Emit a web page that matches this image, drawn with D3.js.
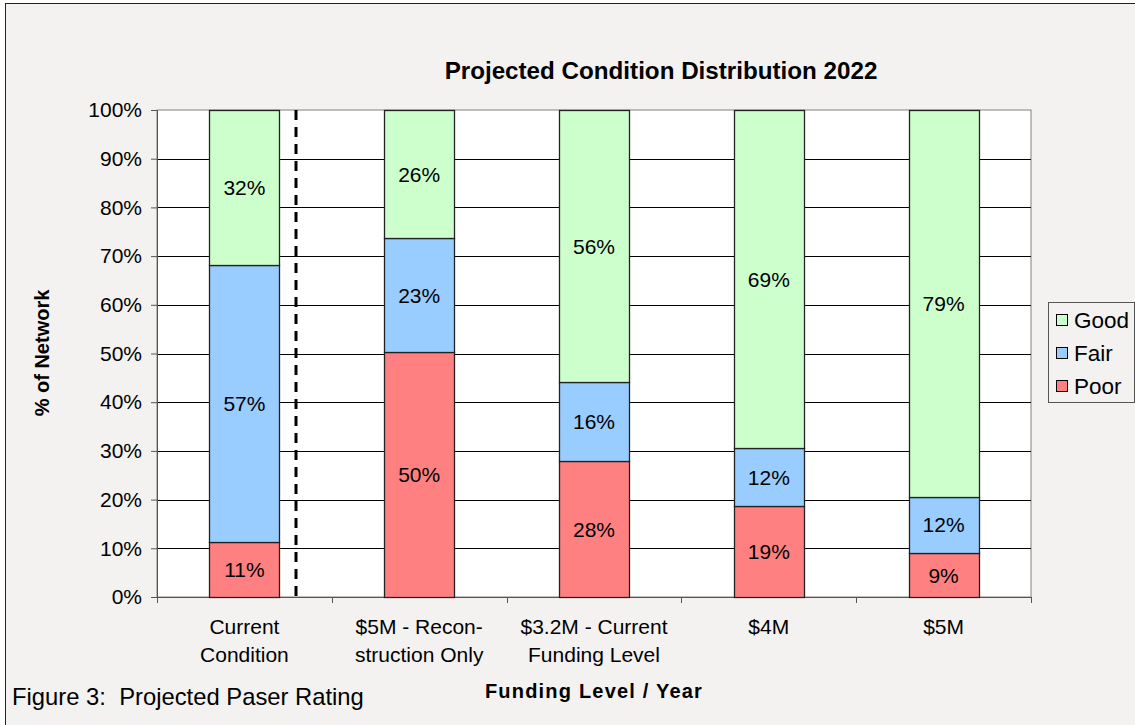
<!DOCTYPE html>
<html>
<head>
<meta charset="utf-8">
<script src="https://cdn.jsdelivr.net/npm/d3@7"></script>
<style>
  body { margin: 0; background: #ffffff; }
  text { font-family: "Liberation Sans", Arial, sans-serif; fill: #000; }
</style>
</head>
<body>
<div id="container"></div>
<script>
/* DATA */
const categories = [["Current", "Condition"], ["$5M - Recon-", "struction Only"], ["$3.2M - Current", "Funding Level"], ["$4M"], ["$5M"]];
const series = ["Poor", "Fair", "Good"];
const poor = [11.3, 50.3, 27.9, 18.7, 9.0];
const fair = [56.9, 23.4, 16.2, 11.8, 11.6];
const good = [31.8, 26.3, 55.9, 69.4, 79.4];
const colors = ["#ff8080", "#99ccff", "#ccffcc"];
const yTicks = [0, 10, 20, 30, 40, 50, 60, 70, 80, 90, 100];

/* CONSTANTS AND GLOBALS */
const width = 1135, height = 725,
  plot = { left: 157, right: 1031, top: 110, bottom: 597 };

const svg = d3.select("#container")
  .append("svg")
  .attr("width", width)
  .attr("height", height);

// chart frame
svg.append("rect")
  .attr("x", 5.5).attr("y", 3.5)
  .attr("width", width + 10).attr("height", height + 10)
  .attr("fill", "#f3f2f1")
  .attr("stroke", "#222");

// SCALES
const x = d3.scaleBand()
  .domain(d3.range(categories.length))
  .range([plot.left, plot.right])
  .paddingInner(0)
  .paddingOuter(0);

const y = d3.scaleLinear()
  .domain([0, 100])
  .range([plot.bottom, plot.top]);

// plot area
svg.append("rect")
  .attr("x", plot.left).attr("y", plot.top)
  .attr("width", plot.right - plot.left).attr("height", plot.bottom - plot.top)
  .attr("fill", "#fff")
  .attr("stroke", "#808080");

// gridlines
svg.append("g")
  .selectAll("line")
  .data(yTicks.slice(1, -1))
  .join("line")
  .attr("x1", plot.left).attr("x2", plot.right)
  .attr("y1", d => Math.round(y(d)) + 0.5).attr("y2", d => Math.round(y(d)) + 0.5)
  .attr("stroke", "#000")
  .attr("stroke-width", 1);

// Y AXIS
const yAxis = svg.append("g")
  .attr("transform", `translate(${plot.left},0)`)
  .call(d3.axisLeft(y).tickValues(yTicks).tickFormat(d => d + "%").tickSize(6).tickPadding(9));
yAxis.select(".domain").attr("stroke", "#555");
yAxis.selectAll(".tick line").attr("stroke", "#555");
yAxis.selectAll("text").style("font-size", "21px").attr("fill", "#000");

// X AXIS (ticks at category boundaries)
svg.append("line")
  .attr("x1", plot.left).attr("x2", plot.right)
  .attr("y1", plot.bottom + 0.5).attr("y2", plot.bottom + 0.5)
  .attr("stroke", "#555");
svg.append("g")
  .selectAll("line")
  .data(d3.range(categories.length + 1))
  .join("line")
  .attr("x1", d => Math.round(plot.left + d * x.step()) + 0.5)
  .attr("x2", d => Math.round(plot.left + d * x.step()) + 0.5)
  .attr("y1", plot.bottom).attr("y2", plot.bottom + 6)
  .attr("stroke", "#555");

svg.append("g")
  .selectAll("text")
  .data(categories)
  .join("text")
  .attr("text-anchor", "middle")
  .attr("x", (d, i) => x(i) + x.bandwidth() / 2)
  .attr("y", 634)
  .style("font-size", "21px")
  .selectAll("tspan")
  .data(d => d)
  .join("tspan")
  .attr("x", function () { return d3.select(this.parentNode).attr("x"); })
  .attr("dy", (d, i) => i === 0 ? 0 : 28)
  .text(d => d);

// STACKED BARS
const table = categories.map((c, i) => ({ Poor: poor[i], Fair: fair[i], Good: good[i], i }));
const stacked = d3.stack().keys(series)(table);
const barW = 70;

const layers = svg.append("g")
  .selectAll("g")
  .data(stacked)
  .join("g")
  .attr("fill", (d, i) => colors[i]);

layers.selectAll("rect")
  .data(d => d)
  .join("rect")
  .attr("x", d => Math.round(x(d.data.i) + x.bandwidth() / 2 - barW / 2) + 0.5)
  .attr("width", barW)
  .attr("y", d => Math.round(y(d[1])) + 0.5)
  .attr("height", d => Math.round(y(d[0])) - Math.round(y(d[1])))
  .attr("stroke", "#222")
  .attr("stroke-width", 1.3);

layers.selectAll("text")
  .data(d => d)
  .join("text")
  .attr("text-anchor", "middle")
  .attr("x", d => x(d.data.i) + x.bandwidth() / 2)
  .attr("y", d => (y(d[0]) + y(d[1])) / 2 + 7.5)
  .style("font-size", "21px")
  .text(d => Math.round(d[1] - d[0]) + "%");

// dashed separator
svg.append("line")
  .attr("x1", 296).attr("x2", 296)
  .attr("y1", plot.top).attr("y2", plot.bottom)
  .attr("stroke", "#000")
  .attr("stroke-width", 3)
  .attr("stroke-dasharray", "10,7");

// LEGEND
const legend = svg.append("g").attr("transform", "translate(1048,302)");
legend.append("rect")
  .attr("x", 0.5).attr("y", 0.5)
  .attr("width", 86).attr("height", 100)
  .attr("fill", "#f3f2f1")
  .attr("stroke", "#555");
const legendItems = legend.selectAll("g.item")
  .data(series.slice().reverse())
  .join("g")
  .attr("class", "item")
  .attr("transform", (d, i) => `translate(0,${18 + i * 33})`);
legendItems.append("rect")
  .attr("x", 8.5).attr("y", -5.5)
  .attr("width", 11).attr("height", 11)
  .attr("fill", d => colors[series.indexOf(d)])
  .attr("stroke", "#000");
legendItems.append("text")
  .attr("x", 26).attr("y", 8)
  .style("font-size", "22.5px")
  .text(d => d);

// TITLES
svg.append("text")
  .attr("x", 661).attr("y", 79)
  .attr("text-anchor", "middle")
  .style("font-size", "24.2px")
  .style("font-weight", "bold")
  .text("Projected Condition Distribution 2022");

svg.append("text")
  .attr("transform", "translate(49,353) rotate(-90)")
  .attr("text-anchor", "middle")
  .style("font-size", "20px")
  .style("font-weight", "bold")
  .text("% of Network");

svg.append("text")
  .attr("x", 594).attr("y", 698)
  .attr("text-anchor", "middle")
  .style("font-size", "20px")
  .style("font-weight", "bold")
  .style("letter-spacing", "1.2px")
  .text("Funding Level / Year");

svg.append("text")
  .attr("x", 12).attr("y", 705)
  .style("font-size", "23.8px")
  .style("white-space", "pre")
  .text("Figure 3:  Projected Paser Rating");
</script>
</body>
</html>
